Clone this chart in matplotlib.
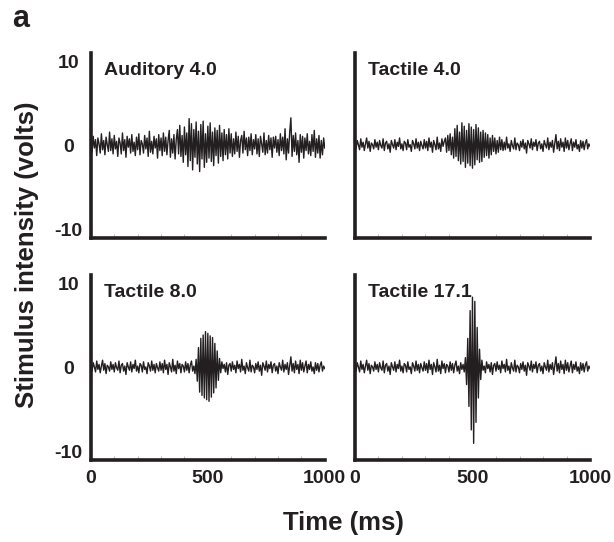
import matplotlib.pyplot as plt
from matplotlib.ticker import MultipleLocator

plt.rcParams["font.family"] = ["Liberation Sans", "DejaVu Sans"]
plt.rcParams["font.weight"] = "bold"
plt.rcParams["axes.unicode_minus"] = False

# sample times (ms), one point every 5 ms
time_ms = list(range(0, 1001, 5))

# background noise shared by the three tactile traces (volts)
tactile_noise = [
    0.3, -0.4, 0.6, 0.1, -0.5, 0.8, -0.2, 0.4, -0.6, 0.2, 0.9, -0.3, 0.5, -0.7, 0.3, 0.1, -0.4, 0.7, -0.2, 0.4,
    -0.5, 0.6, 0.0, -0.3, 0.8, -0.6, 0.3, 0.5, -0.4, 0.2, -0.8, 0.6, 0.1, -0.3, 0.7, -0.5, 0.4, -0.1, 0.9, -0.4,
    0.2, -0.6, 0.5, 0.3, -0.5, 0.7, -0.2, 0.1, -0.7, 0.6, 0.2, -0.4, 0.8, -0.3, 0.4, -0.6, 0.5, 0.0, -0.4, 0.7,
    -0.3, 0.5, -0.6, 0.9, -0.2, 0.4, -0.8, 0.6, 0.1, -0.5, 1.0, -0.4, 0.3, -0.7, 0.8, -0.1, 0.5, -0.6, 0.4, 0.2,
    -0.5, 0.7, -0.3, 0.5, -0.6, 0.3, 0.8, -0.4, 0.2, -0.7, 0.6, -0.2, 0.4, -0.5, 0.7, -0.3, 0.1, 0.6, -0.4, 0.3,
    -0.6, 0.8, -0.2, 0.4, -0.7, 0.5, 0.1, -0.4, 0.9, -0.3, 0.2, -0.6, 0.7, -0.1, 0.4, -0.5, 0.6, -0.8, 0.3, 0.5,
    -0.4, 0.7, -0.2, 0.3, -0.6, 0.8, -0.1, 0.4, -0.5, 1.0, -0.3, 0.2, -0.7, 0.6, 0.0, -0.4, 0.9, -0.5, 0.3, 0.1,
    -0.6, 0.5, -0.2, 0.7, -0.4, 0.3, -0.9, 0.6, 0.2, -0.3, 0.8, -0.5, 0.4, -0.1, 0.7, -0.6, 0.3, 0.5, -0.4, 0.2,
    -0.7, 0.6, 0.1, -0.3, 0.9, -0.5, 0.4, -0.2, 0.6, -0.8, 0.3, 1.3, -0.4, 0.5, -0.6, 0.8, -0.2, 0.4, -0.7, 0.9,
    -0.3, 0.6, -0.5, 0.2, 0.8, -0.6, 0.4, -0.2, 0.7, -0.4, 0.1, -0.7, 0.6, -0.3, 0.5, -0.5, 0.3, 0.7, -0.4, 0.2,
    -0.1,
]

# vibration bursts: (first sample time in ms, values)
tactile_4_burst = (385, [
    0.9, -0.8, 1.2, -0.6, 1.4, -1.1, 1.0, -1.5, 2.0, -1.3,
    2.4, -1.8, 1.6, -2.2, 2.7, -1.9, 2.3, -2.6, 1.8, -2.1,
    2.6, -2.4, 2.2, -2.7, 1.9, -2.3, 2.5, -1.7, 2.1, -2.0,
    1.6, -1.9, 1.8, -1.4, 1.5, -1.2, 1.3, -1.5, 0.9, -1.1,
    1.2, -0.7, 0.9, -1.0, 0.6, -0.8, 1.0, -0.5, 0.7, -0.6,
])
tactile_8_burst = (450, [
    1.0, -1.6, 2.4, -2.9, 3.5, -3.3, 3.9, -3.6, 4.3, -3.8,
    4.1, -4.0, 3.8, -3.5, 3.6, -3.0, 2.9, -2.4, 2.0, -1.5,
    1.1,
])
tactile_17_burst = (470, [
    1.2, -2.0, 3.5, -4.6, 6.8, -7.4, 8.4, -9.0, 7.9, -6.5,
    4.8, -3.6, 2.2, -1.4,
])

auditory_4 = [
    0.4, -0.8, 1.1, -0.3, 0.7, -1.2, 0.9, 0.2, -0.9, 1.4, -0.5, 0.6, -1.1, 1.0, 0.1, -0.7, 1.6, -0.6, 0.8, -1.0,
    1.2, -0.4, 0.5, -1.3, 0.9, 0.3, -1.0, 1.5, -0.6, 0.7, -1.4, 1.1, -0.2, 0.8, -0.9, 1.3, -0.7, 0.4, -1.2, 1.0,
    -0.5, 1.4, -1.1, 0.6, 0.2, -0.9, 1.2, -0.4, 0.9, -1.3, 1.7, -0.8, 0.5, -1.0, 1.1, -0.3, 0.8, -1.5, 1.3, -0.6,
    0.9, -1.2, 1.5, -0.7, 1.0, -1.1, 0.6, 1.8, -1.4, 0.8, -0.9, 1.3, -1.6, 0.7, 1.9, -1.0, 2.4, -1.3, 1.2, -2.0,
    2.2, -1.1, 1.5, -2.5, 3.2, -1.8, 2.6, -2.9, 1.9, -1.4, 2.8, -2.2, 1.7, -3.1, 2.5, -1.6, 2.9, -2.6, 1.4, -2.0,
    2.3, -1.5, 2.7, -1.9, 1.6, -2.4, 2.1, -1.2, 1.8, -2.1, 2.4, -1.3, 1.5, -1.8, 1.9, -1.1, 1.3, -1.6, 2.0, -0.9,
    1.4, -1.3, 0.8, -1.0, 1.6, -0.7, 1.1, -1.4, 0.6, 1.2, -0.9, 1.7, -0.5, 0.9, -1.2, 1.0, -0.6, 1.4, -1.1, 0.7,
    -0.4, 1.3, -1.0, 0.8, -1.3, 1.1, 0.2, -0.8, 1.5, -1.1, 0.6, -0.9, 1.2, -0.5, 0.9, -1.4, 1.0, -0.3, 1.1, -0.8,
    0.7, -1.2, 1.4, -0.6, 1.0, -1.0, 2.0, -1.7, 0.8, -0.9, 1.6, 3.3, -1.3, 1.2, -0.7, 1.5, -1.1, 0.6, -2.0, 1.3,
    -0.8, 1.1, -1.5, 0.9, -0.6, 1.4, -1.0, 0.5, -1.2, 1.3, -0.7, 1.8, -1.4, 0.8, -0.9, 1.2, -1.5, 0.6, -1.1, 0.9,
    -0.3,
]


def with_burst(noise, burst):
    start, vals = burst
    i = time_ms.index(start)
    return noise[:i] + vals + noise[i + len(vals):]


panels = [
    ("Auditory 4.0", auditory_4),
    ("Tactile 4.0", with_burst(tactile_noise, tactile_4_burst)),
    ("Tactile 8.0", with_burst(tactile_noise, tactile_8_burst)),
    ("Tactile 17.1", with_burst(tactile_noise, tactile_17_burst)),
]

# axes boxes in figure fractions [left, bottom, width, height]
boxes = [
    [0.148, 0.561, 0.381, 0.341],
    [0.578, 0.561, 0.383, 0.341],
    [0.148, 0.151, 0.381, 0.341],
    [0.578, 0.151, 0.383, 0.341],
]

ink = "#231f20"
fig = plt.figure(figsize=(6.14, 5.42), dpi=100)

for k, (name, sig) in enumerate(panels):
    ax = fig.add_axes(boxes[k])
    ax.plot(time_ms, sig, color=ink, lw=1.0)
    ax.set_xlim(0, 1000)
    ax.set_ylim(-11, 11)
    for s in ["top", "right"]:
        ax.spines[s].set_visible(False)
    for s in ["left", "bottom"]:
        ax.spines[s].set_linewidth(2.6)
        ax.spines[s].set_color(ink)
    ax.set_xticks([0, 500, 1000])
    ax.set_yticks([-10, 0, 10])
    ax.xaxis.set_minor_locator(MultipleLocator(100))
    ax.tick_params(which="major", length=0, labelsize=14, colors=ink)
    ax.tick_params(which="major", axis="y", pad=16)
    ax.tick_params(which="major", axis="x", pad=7)
    ax.tick_params(which="minor", axis="x", direction="in", length=3,
                   width=0.6, color="#b0b0b0")
    for lab in ax.get_yticklabels():
        lab.set_horizontalalignment("center")
    if k % 2 == 1:
        ax.set_yticklabels([])
    if k < 2:
        ax.set_xticklabels([])
    ax.text(0.056, 0.905, name, transform=ax.transAxes, fontsize=14,
            fontweight="bold", va="center", ha="left", color=ink)

fig.text(0.033, 0.965, "a", fontsize=22, fontweight="bold", va="center",
         ha="center", color=ink)
fig.text(0.044, 0.53, "Stimulus intensity (volts)", rotation=90,
         fontsize=18.5, fontweight="bold", va="center", ha="center", color=ink)
fig.text(0.56, 0.035, "Time (ms)", fontsize=18.5, fontweight="bold",
         va="center", ha="center", color=ink)

fig.savefig("out.png", dpi=100)
